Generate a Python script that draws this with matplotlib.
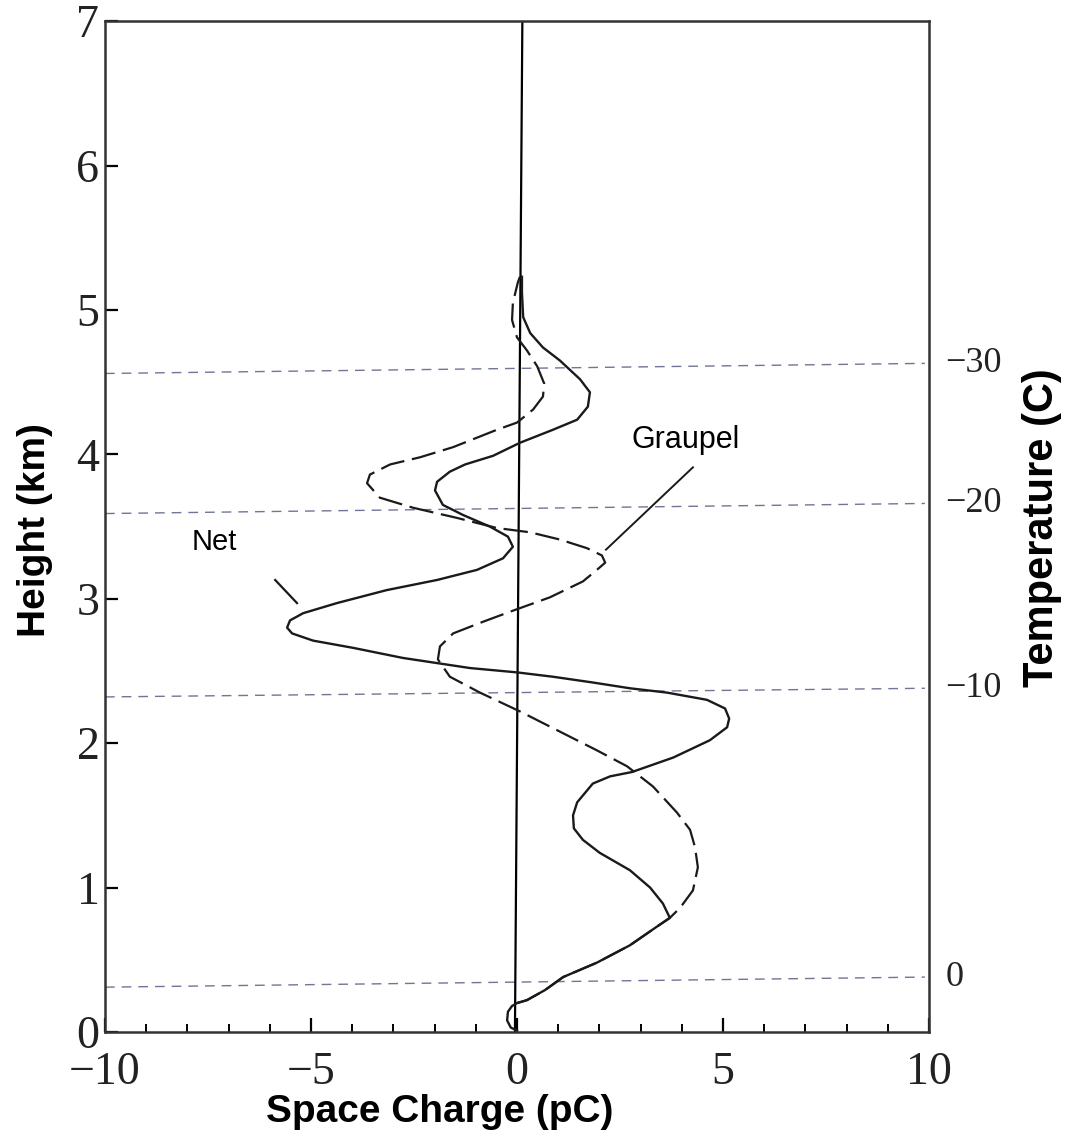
import matplotlib
matplotlib.use("Agg")
import matplotlib.pyplot as plt
import numpy as np

# Net space charge (solid): x in pC, height in km
net_x = [0.00, -0.15, -0.24, -0.22, -0.12, 0.00, 0.24, 0.68, 1.12, 1.94, 2.74, 3.40, 3.71,
         3.54, 3.23, 2.74, 2.01, 1.60, 1.38, 1.36, 1.46, 1.84, 2.26, 2.79, 3.79, 4.68, 5.10,
         5.15, 5.05, 4.61, 3.64, 2.74, 1.84, 0.87, 0.00, -1.14, -2.77, -3.98, -4.95, -5.46,
         -5.58, -5.51, -5.19, -4.37, -3.16, -1.94, -0.97, -0.34, -0.10, -0.22, -0.66, -1.31,
         -1.80, -1.99, -1.94, -1.63, -1.26, -0.58, 0.07, 0.87, 1.46, 1.72, 1.77, 1.53, 1.04,
         0.63, 0.32, 0.15, 0.12, 0.12]
net_y = [0.01, 0.03, 0.08, 0.14, 0.18, 0.20, 0.22, 0.29, 0.38, 0.48, 0.60, 0.73, 0.79,
         0.89, 1.00, 1.12, 1.24, 1.33, 1.41, 1.50, 1.59, 1.72, 1.77, 1.80, 1.90, 2.02, 2.11,
         2.17, 2.24, 2.30, 2.35, 2.38, 2.42, 2.46, 2.49, 2.52, 2.59, 2.66, 2.71, 2.76,
         2.80, 2.85, 2.90, 2.97, 3.06, 3.13, 3.20, 3.28, 3.36, 3.43, 3.50, 3.58,
         3.65, 3.75, 3.81, 3.88, 3.93, 3.99, 4.08, 4.17, 4.24, 4.33, 4.43, 4.52, 4.65,
         4.74, 4.84, 4.95, 5.12, 5.23]

# Graupel space charge (dashed)
gr_x = [0.00, 0.24, 0.68, 1.12, 1.94, 2.74, 3.40, 3.71, 3.96, 4.27, 4.39, 4.32, 4.20,
        3.88, 3.30, 2.67, 1.94, 0.97, 0.07, -0.90, -1.63, -1.92, -1.87, -1.55, -0.83,
        -0.17, 0.80, 1.60, 1.94, 2.14, 2.06, 1.70, 1.04, 0.32, -0.49, -1.46, -2.52, -3.33,
        -3.64, -3.57, -3.08, -2.35, -1.55, -0.49, 0.00, 0.39, 0.63, 0.66, 0.49, 0.24,
        0.00, -0.12, -0.10, 0.02, 0.07]
gr_y = [0.20, 0.22, 0.29, 0.38, 0.48, 0.60, 0.73, 0.79, 0.86, 0.98, 1.14, 1.28, 1.40,
        1.52, 1.70, 1.84, 1.95, 2.09, 2.22, 2.35, 2.46, 2.58, 2.67, 2.76, 2.84,
        2.91, 3.01, 3.12, 3.20, 3.25, 3.30, 3.35, 3.41, 3.46, 3.49, 3.56, 3.63, 3.70,
        3.80, 3.86, 3.93, 3.98, 4.05, 4.17, 4.22, 4.31, 4.40, 4.49, 4.61, 4.72,
        4.81, 4.93, 5.05, 5.19, 5.23]

# Temperature reference levels: label, height at left edge, height at right edge
temp_labels = ["\u221230", "\u221220", "\u221210", "0"]
temp_h_left = [4.56, 3.59, 2.32, 0.31]
temp_h_right = [4.63, 3.66, 2.38, 0.38]

x_ticks = [-10, -5, 0, 5, 10]
x_tick_labels = ["\u221210", "\u22125", "0", "5", "10"]
y_ticks = [0, 1, 2, 3, 4, 5, 6, 7]

# zero reference line (slightly tilted in the scan)
zero_x = [-0.05, 0.13]
zero_y = [0.0, 7.0]

fig = plt.figure(figsize=(10.65, 11.37), dpi=100)
ax = fig.add_axes([0.0986, 0.0924, 0.7737, 0.889])
ax.set_xlim(-10, 10)
ax.set_ylim(0, 7)

for lab, hl, hr in zip(temp_labels, temp_h_left, temp_h_right):
    ax.plot([-10, 9.9], [hl, hr], color="#6f7696", lw=1.0, dashes=(7, 5))
    ax.text(10.4, hr, lab, fontsize=26, family="Liberation Serif", color="#222222",
            va="center", ha="left", clip_on=False)

ax.plot(zero_x, zero_y, color="black", lw=1.6)
ax.plot(net_x, net_y, color="#1a1a1a", lw=1.7, solid_joinstyle="round")
ax.plot(gr_x, gr_y, color="#1a1a1a", lw=1.6, dashes=(11, 3.5))

# leader lines and labels
ax.plot([-5.87, -5.34], [3.13, 2.97], color="#1a1a1a", lw=1.6)
ax.plot([4.27, 2.16], [3.91, 3.34], color="#1a1a1a", lw=1.4)
ax.text(-7.35, 3.39, "Net", fontsize=21, family="Liberation Sans", ha="center", va="center")
ax.text(4.1, 4.10, "Graupel", fontsize=22, family="Liberation Sans", ha="center", va="center")

for s in ax.spines.values():
    s.set_linewidth(1.8)
    s.set_color("#333333")

ax.set_xticks(x_ticks)
ax.set_xticklabels(x_tick_labels)
ax.set_xticks(np.arange(-10, 11, 1), minor=True)
ax.set_yticks(y_ticks)
ax.set_yticklabels([str(v) for v in y_ticks])
ax.tick_params(axis="x", which="major", direction="in", length=10, width=1.6, pad=14,
               labelsize=33, top=False)
ax.tick_params(axis="x", which="minor", direction="in", length=6, width=1.4, top=False)
ax.tick_params(axis="y", which="major", direction="in", length=9, width=1.6, pad=4,
               labelsize=33, right=False)
for lbl in ax.get_xticklabels() + ax.get_yticklabels():
    lbl.set_family("Liberation Serif")
    lbl.set_color("#222222")

fig.text(440 / 1065, 1 - 1112 / 1137, "Space Charge (pC)", fontsize=28, fontweight="bold",
         family="Liberation Sans", ha="center", va="center")
fig.text(35 / 1065, 1 - 530 / 1137, "Height (km)", fontsize=28, fontweight="bold",
         family="Liberation Sans", ha="center", va="center", rotation=90)
fig.text(1042 / 1065, 1 - 528 / 1137, "Temperature (C)", fontsize=30, fontweight="bold",
         family="Liberation Sans", ha="center", va="center", rotation=90)

fig.savefig("out.png", dpi=100)
